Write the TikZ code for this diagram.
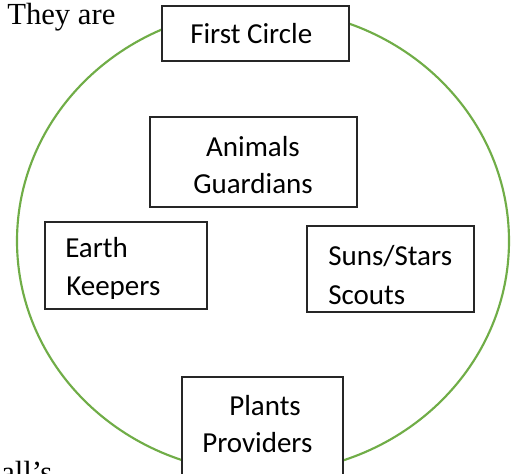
\documentclass[tikz,border=0pt]{standalone}
\usepackage{fontspec}
\setmainfont{Liberation Serif}
\newfontfamily\calib{Carlito}
\usetikzlibrary{fit}
\definecolor{ringgreen}{HTML}{70AD47}
\definecolor{boxline}{HTML}{262626}
\tikzset{
  ring/.style={draw=ringgreen, line width=1.6pt},
  box/.style={draw=boxline, fill=white, line width=0.8pt, inner sep=0pt},
  lbl/.style={inner sep=0pt, anchor=base west, font=\calib\fontsize{21.75pt}{26pt}\selectfont},
  prose/.style={inner sep=0pt, anchor=base west, font=\fontsize{23pt}{27pt}\selectfont}
}
\begin{document}
\begin{tikzpicture}[x=0.75pt,y=-0.75pt]
\useasboundingbox (0,0) rectangle (515,474);
\clip (0,0) rectangle (515,474);
\fill[white] (0,0) rectangle (515,474);
\draw[ring] (263,241) ellipse [x radius=246, y radius=232];
% boxes
\node[box, fit={(162,6)(349,61)}] (first) {};
\node[box, fit={(150,117)(357,207)}] (animals) {};
\node[box, fit={(45,222)(207,309)}] (earth) {};
\node[box, fit={(307,226)(474,312)}] (suns) {};
\node[box, fit={(182,377)(343,490)}] (plants) {};
% labels
\node[lbl] (tfirst) at (190,44) {First Circle};
\node[lbl, anchor=base] (tanim1) at (253,157) {Animals};
\node[lbl, anchor=base] (tanim2) at (253,194) {Guardians};
\node[lbl] (tearth1) at (65,258) {Earth};
\begin{scope}
  \clip (46,223) rectangle (206,299);
  \node[lbl] (tearth2) at (66,296) {Keepers};
\end{scope}
\node[lbl] (tsuns1) at (328,266) {Suns/Stars};
\node[lbl] (tsuns2) at (328,305) {Scouts};
\node[lbl] (tplant1) at (229,416) {Plants};
\node[lbl] (tplant2) at (202,453) {Providers};
% surrounding prose fragments
\node[prose] (they) at (7,25) {They are};
\node[prose] (alls) at (1,483) {all’s};
\end{tikzpicture}
\end{document}
